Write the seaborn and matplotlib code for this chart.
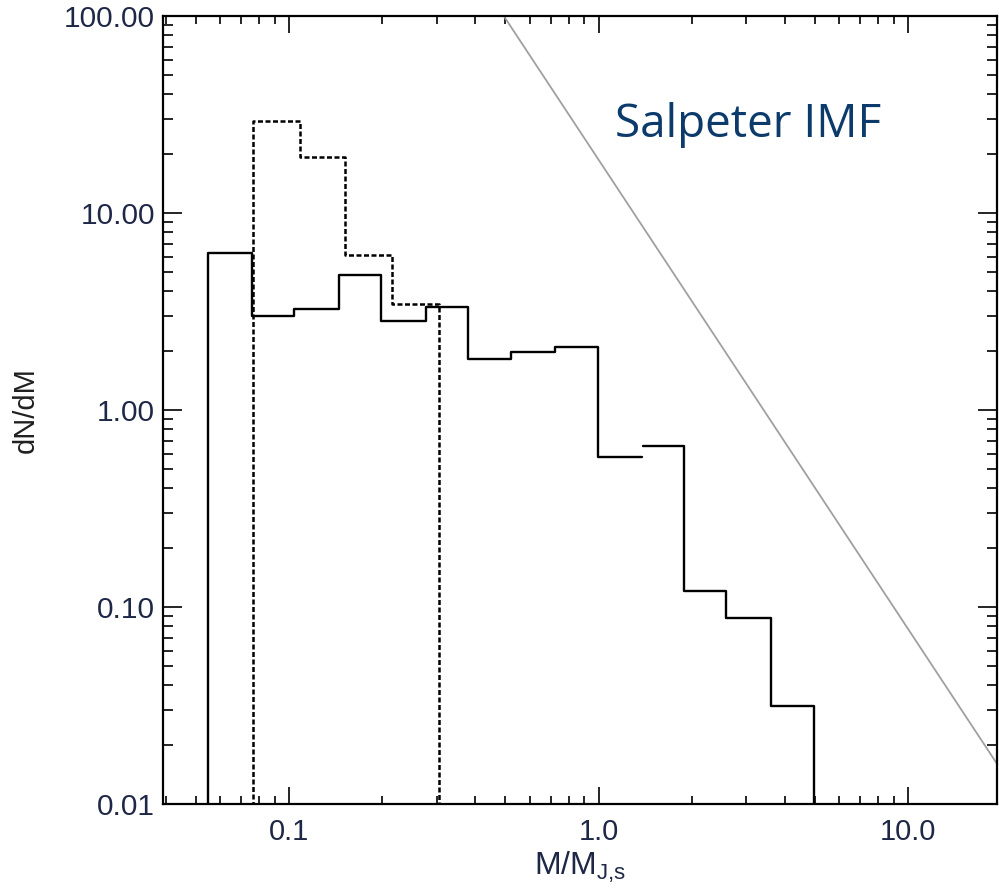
import numpy as np
import pandas as pd
import matplotlib
matplotlib.use("Agg")
import matplotlib.pyplot as plt
from matplotlib.ticker import FixedLocator, FixedFormatter, LogLocator, NullFormatter
import seaborn as sns

# ---------------- data ----------------
# solid histogram, part A (ends with a horizontal, no drop)
solid_a_edges = [0.0547, 0.0756, 0.1035, 0.1447, 0.1978, 0.2765, 0.3787, 0.523, 0.722, 0.996, 1.382]
solid_a_values = [6.27, 3.01, 3.26, 4.85, 2.84, 3.32, 1.82, 1.98, 2.08, 0.575]
# solid histogram, part B (starts with a horizontal, drops to the axis)
solid_b_edges = [1.392, 1.885, 2.59, 3.60, 4.96]
solid_b_values = [0.654, 0.120, 0.0875, 0.0316]
# dotted histogram
dotted_edges = [0.0762, 0.1083, 0.1514, 0.2152, 0.3053]
dotted_values = [29.2, 19.3, 6.14, 3.45]
# Salpeter IMF reference line (end points)
salpeter_m = [0.494, 19.4]
salpeter_dndm = [100.0, 0.016]

x_major = [0.1, 1.0, 10.0]
x_major_labels = ["0.1", "1.0", "10.0"]
y_major = [0.01, 0.1, 1.0, 10.0, 100.0]
y_major_labels = ["0.01", "0.10", "1.00", "10.00", "100.00"]

x_limits = (0.0392, 19.4)
y_limits = (0.01, 100.0)
floor = 1e-3  # below the plot so vertical edges reach the axis


def step_points(edges, values, rise_start=True, drop_end=True):
    xs, ys = [], []
    if rise_start:
        xs.append(edges[0]); ys.append(floor)
    for e, v in zip(edges[:-1], values):
        xs.append(e); ys.append(v)
    xs.append(edges[-1]); ys.append(floor if drop_end else values[-1])
    return pd.DataFrame({"m": xs, "dndm": ys})


sns.set_theme(style="ticks")
plt.rcParams["font.family"] = ["Liberation Sans", "DejaVu Sans"]
plt.rcParams["mathtext.fontset"] = "custom"
plt.rcParams["mathtext.rm"] = "Liberation Sans"
plt.rcParams["mathtext.default"] = "regular"

fig = plt.figure(figsize=(9.99, 8.88), dpi=100)
ax = fig.add_axes([163.3 / 999, 1 - 804 / 888, (997 - 163.3) / 999, (804 - 16) / 888])
ax.set_xscale("log")
ax.set_yscale("log")

text_col = "#1e2846"

df_a = step_points(solid_a_edges, solid_a_values, rise_start=True, drop_end=False)
df_b = step_points(solid_b_edges, solid_b_values, rise_start=False, drop_end=True)
df_d = step_points(dotted_edges, dotted_values, rise_start=True, drop_end=True)
df_s = pd.DataFrame({"m": salpeter_m, "dndm": salpeter_dndm})

sns.lineplot(data=df_s, x="m", y="dndm", ax=ax, color="#a0a0a0", lw=1.3,
             sort=False, estimator=None)
sns.lineplot(data=df_d, x="m", y="dndm", ax=ax, color="black", lw=1.8,
             linestyle=(0, (2.0, 1.0)), drawstyle="steps-post", sort=False, estimator=None)
sns.lineplot(data=df_a, x="m", y="dndm", ax=ax, color="black", lw=1.7,
             drawstyle="steps-post", sort=False, estimator=None)
sns.lineplot(data=df_b, x="m", y="dndm", ax=ax, color="black", lw=1.7,
             drawstyle="steps-post", sort=False, estimator=None)

ax.set_xlim(*x_limits)
ax.set_ylim(*y_limits)

ax.xaxis.set_major_locator(FixedLocator(x_major))
ax.xaxis.set_major_formatter(FixedFormatter(x_major_labels))
ax.yaxis.set_major_locator(FixedLocator(y_major))
ax.yaxis.set_major_formatter(FixedFormatter(y_major_labels))
ax.xaxis.set_minor_locator(LogLocator(base=10, subs=np.arange(2, 10), numticks=20))
ax.yaxis.set_minor_locator(LogLocator(base=10, subs=np.arange(2, 10), numticks=20))
ax.xaxis.set_minor_formatter(NullFormatter())
ax.yaxis.set_minor_formatter(NullFormatter())

for s in ax.spines.values():
    s.set_visible(True)
    s.set_linewidth(1.6)
    s.set_color("black")

ax.tick_params(axis="both", which="both", direction="in", top=True, right=True,
               color="black", width=1.2)
ax.tick_params(axis="x", which="major", length=12.5, pad=10, labelsize=21, labelcolor=text_col)
ax.tick_params(axis="x", which="minor", length=6)
ax.tick_params(axis="y", which="major", length=13.5, pad=6, labelsize=21.5, labelcolor=text_col)
ax.tick_params(axis="y", which="minor", length=7)

ax.set_xlabel(r"M/M$_{J{,}s}$", fontsize=23, color=text_col)
ax.set_ylabel("dN/dM", fontsize=21, color="#202020")
ax.xaxis.set_label_coords(0.5, -0.058)
ax.yaxis.set_label_coords(-0.148, 0.5)

ax.text(0.5418, 0.8468, "Salpeter IMF", transform=ax.transAxes, ha="left",
        va="baseline", fontsize=33, color="#0b3a6b", family=["Open Sans", "DejaVu Sans"])

fig.savefig("out.png", dpi=100)
